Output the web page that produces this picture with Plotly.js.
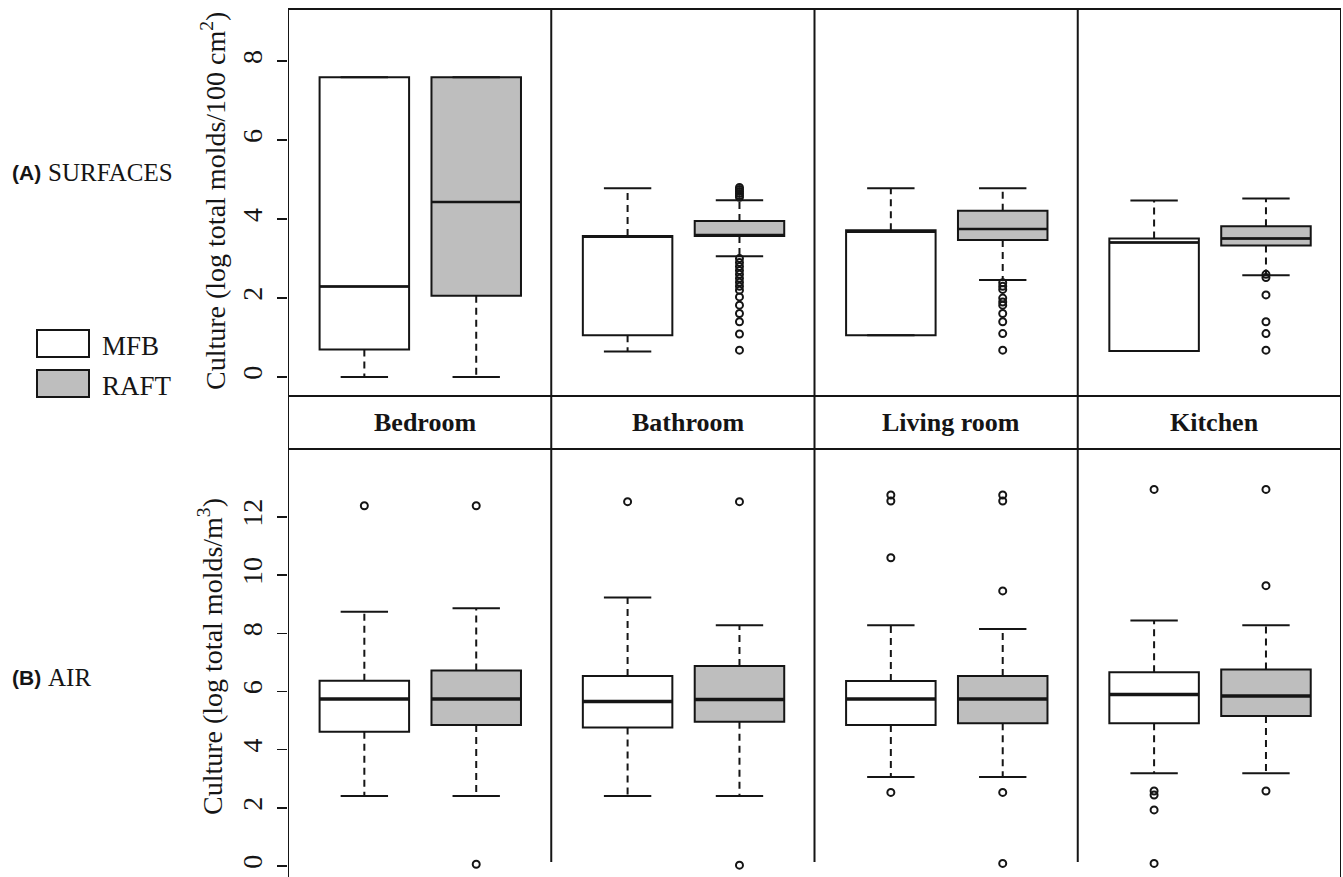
<!DOCTYPE html>
<html><head><meta charset="utf-8">
<script src="https://cdn.plot.ly/plotly-3.0.1.min.js"></script>
<style>html,body{margin:0;padding:0;background:#fff}#chart{width:1343px;height:877px}</style>
</head><body><div id="chart"></div>
<script>
// ---- data ----
const rooms = ['Bedroom', 'Bathroom', 'Living room', 'Kitchen'];
const groups = ['MFB', 'RAFT'];

// (A) SURFACES  (log total molds / 100 cm2)
const surfMfbQ1  = [0.70, 1.06, 1.06, 0.66];
const surfMfbMed = [2.29, 3.55, 3.68, 3.41];
const surfMfbQ3  = [7.59, 3.57, 3.72, 3.51];
const surfMfbLo  = [0.00, 0.65, 1.06, 0.66];
const surfMfbHi  = [7.59, 4.78, 4.78, 4.47];
const surfMfbOut = [[], [], [], []];

const surfRaftQ1  = [2.06, 3.57, 3.47, 3.33];
const surfRaftMed = [4.43, 3.60, 3.75, 3.51];
const surfRaftQ3  = [7.59, 3.95, 4.21, 3.82];
const surfRaftLo  = [0.00, 3.06, 2.46, 2.58];
const surfRaftHi  = [7.59, 4.48, 4.78, 4.52];
const surfRaftOut = [
  [],
  [4.55, 4.6, 4.65, 4.7, 4.75, 4.8, 3.0, 2.9, 2.8, 2.7, 2.6, 2.5, 2.4, 2.3, 2.2, 2.03, 1.82, 1.61, 1.4, 1.09, 0.68],
  [2.39, 2.3, 2.22, 2.0, 1.9, 1.82, 1.61, 1.4, 1.1, 0.68],
  [2.6, 2.52, 2.08, 1.4, 1.1, 0.68]
];

// (B) AIR  (log total molds / m3)
const airMfbQ1  = [4.62, 4.76, 4.85, 4.91];
const airMfbMed = [5.74, 5.66, 5.74, 5.90];
const airMfbQ3  = [6.37, 6.53, 6.36, 6.66];
const airMfbLo  = [2.41, 2.41, 3.06, 3.19];
const airMfbHi  = [8.74, 9.23, 8.28, 8.44];
const airMfbOut = [[12.39], [12.53], [12.76, 12.55, 10.6, 2.53], [12.95, 2.58, 2.44, 1.93, 0.09]];

const airRaftQ1  = [4.85, 4.96, 4.91, 5.16];
const airRaftMed = [5.74, 5.73, 5.74, 5.85];
const airRaftQ3  = [6.72, 6.88, 6.53, 6.76];
const airRaftLo  = [2.41, 2.41, 3.06, 3.19];
const airRaftHi  = [8.86, 8.28, 8.15, 8.28];
const airRaftOut = [[12.39, 0.06], [12.53, 0.03], [12.76, 12.55, 9.46, 2.53, 0.09], [12.95, 9.64, 2.58]];

const surfTicks = [0, 2, 4, 6, 8];
const airTicks = [0, 2, 4, 6, 8, 10, 12];

// ---- layout helpers ----
const W = 1343, H = 877;
const px = x => x / W;
const py = y => 1 - y / H;
const INK = '#151515';
const GREY = '#bebebe';
const SERIF = "'Liberation Serif', serif";
const SANS = "'Liberation Sans', sans-serif";
const offsets = [0.29, 0.715];
const boxW = 0.34, capW = 0.18;

const traces = [];
function addGroup(xa, ya, q1, med, q3, lo, hi, out, fill, off, medW) {
  rooms.forEach((r, i) => {
    const x = i + off;
    traces.push({type: 'box', orientation: 'v', x: [x], q1: [q1[i]], median: [med[i]], q3: [q3[i]],
      lowerfence: [q1[i]], upperfence: [q3[i]], width: boxW, whiskerwidth: 0, boxpoints: false,
      fillcolor: fill, line: {color: INK, width: 2}, xaxis: xa, yaxis: ya, showlegend: false, hoverinfo: 'skip'});
    traces.push({type: 'scatter', mode: 'lines', x: [x - boxW / 2, x + boxW / 2], y: [med[i], med[i]],
      line: {color: INK, width: medW}, xaxis: xa, yaxis: ya, showlegend: false, hoverinfo: 'skip'});
    const wx = [], wy = [], cx = [], cy = [];
    if (hi[i] > q3[i]) { wx.push(x, x, null); wy.push(q3[i], hi[i], null); }
    if (lo[i] < q1[i]) { wx.push(x, x, null); wy.push(q1[i], lo[i], null); }
    cx.push(x - capW / 2, x + capW / 2, null, x - capW / 2, x + capW / 2, null);
    cy.push(hi[i], hi[i], null, lo[i], lo[i], null);
    if (wx.length) traces.push({type: 'scatter', mode: 'lines', x: wx, y: wy,
      line: {color: INK, width: 2, dash: '7px,5px'}, xaxis: xa, yaxis: ya, showlegend: false, hoverinfo: 'skip'});
    traces.push({type: 'scatter', mode: 'lines', x: cx, y: cy,
      line: {color: INK, width: 2}, xaxis: xa, yaxis: ya, showlegend: false, hoverinfo: 'skip'});
    if (out[i].length) traces.push({type: 'scatter', mode: 'markers', x: out[i].map(() => x), y: out[i],
      marker: {symbol: 'circle-open', size: 7, color: INK, line: {width: 2, color: INK}},
      xaxis: xa, yaxis: ya, showlegend: false, hoverinfo: 'skip'});
  });
}
addGroup('x', 'y', surfMfbQ1, surfMfbMed, surfMfbQ3, surfMfbLo, surfMfbHi, surfMfbOut, '#ffffff', offsets[0], 2.5);
addGroup('x', 'y', surfRaftQ1, surfRaftMed, surfRaftQ3, surfRaftLo, surfRaftHi, surfRaftOut, GREY, offsets[1], 2.5);
addGroup('x2', 'y2', airMfbQ1, airMfbMed, airMfbQ3, airMfbLo, airMfbHi, airMfbOut, '#ffffff', offsets[0], 3.5);
addGroup('x2', 'y2', airRaftQ1, airRaftMed, airRaftQ3, airRaftLo, airRaftHi, airRaftOut, GREY, offsets[1], 3.5);

const xBase = {domain: [px(288), px(1341)], range: [0, 4], showticklabels: false, showline: false,
  showgrid: false, zeroline: false, ticks: '', fixedrange: true};
const yBase = {ticks: 'outside', ticklen: 10, tickwidth: 1.5, tickcolor: INK, tickangle: -90,
  tickfont: {family: SERIF, size: 28, color: INK}, showline: false, showgrid: false, zeroline: false,
  ticklabelstandoff: 4, fixedrange: true};

const shapes = [];
const ln = (x0, y0, x1, y1, xref) => shapes.push({type: 'line', xref: xref || 'paper', yref: 'paper',
  x0, y0, x1, y1, line: {color: INK, width: 2}});
ln(0, py(9), 4, py(9), 'x');
ln(0, py(396), 4, py(396), 'x');
ln(0, py(449), 4, py(449), 'x');
ln(0, py(877), 0, py(9), 'x');
ln(4, py(877), 4, py(9), 'x');
[1, 2, 3].forEach(k => ln(k, py(862), k, py(9), 'x'));
// legend swatches
shapes.push({type: 'rect', xref: 'paper', yref: 'paper', x0: px(37), x1: px(89), y0: py(357), y1: py(330),
  fillcolor: '#ffffff', line: {color: INK, width: 2}});
shapes.push({type: 'rect', xref: 'paper', yref: 'paper', x0: px(37), x1: px(89), y0: py(397), y1: py(370),
  fillcolor: GREY, line: {color: INK, width: 2}});

const annotations = [];
rooms.forEach((r, i) => annotations.push({xref: 'x', yref: 'paper', x: i + 0.52, y: py(422), text: '<b>' + r + '</b>',
  showarrow: false, font: {family: SERIF, size: 26, color: INK}, xanchor: 'center', yanchor: 'middle'}));
const txt = (x, y, text, font, extra) => annotations.push(Object.assign({xref: 'paper', yref: 'paper', x: px(x), y: py(y),
  text, showarrow: false, font, xanchor: 'left', yanchor: 'middle'}, extra || {}));
txt(10, 173, '<b>(A)</b>', {family: SANS, size: 21, color: INK});
txt(46, 173, 'SURFACES', {family: SERIF, size: 25, color: INK});
txt(10, 677, '<b>(B)</b>', {family: SANS, size: 21, color: INK});
txt(46, 677, 'AIR', {family: SERIF, size: 25, color: INK});
txt(100, 346, groups[0], {family: SERIF, size: 27, color: INK});
txt(100, 386, groups[1], {family: SERIF, size: 27, color: INK});
txt(213, 201, 'Culture (log total molds/100 cm<sup>2</sup>)', {family: SERIF, size: 28, color: INK},
  {xanchor: 'center', textangle: -90});
txt(210, 657, 'Culture (log total molds/m<sup>3</sup>)', {family: SERIF, size: 28, color: INK},
  {xanchor: 'center', textangle: -90});

const layout = {
  width: W, height: H, margin: {l: 0, r: 0, t: 0, b: 0}, paper_bgcolor: '#fff', plot_bgcolor: 'rgba(0,0,0,0)',
  showlegend: false, boxmode: 'overlay',
  xaxis: Object.assign({}, xBase, {anchor: 'y'}),
  xaxis2: Object.assign({}, xBase, {anchor: 'y2'}),
  yaxis: Object.assign({}, yBase, {domain: [py(396), py(9)], range: [-0.48, 9.32], tickvals: surfTicks, anchor: 'x'}),
  yaxis2: Object.assign({}, yBase, {domain: [0, py(449)], range: [-0.378, 14.34], tickvals: airTicks, anchor: 'x2'}),
  shapes, annotations
};
Plotly.newPlot('chart', traces, layout, {staticPlot: true, displayModeBar: false});
</script></body></html>
